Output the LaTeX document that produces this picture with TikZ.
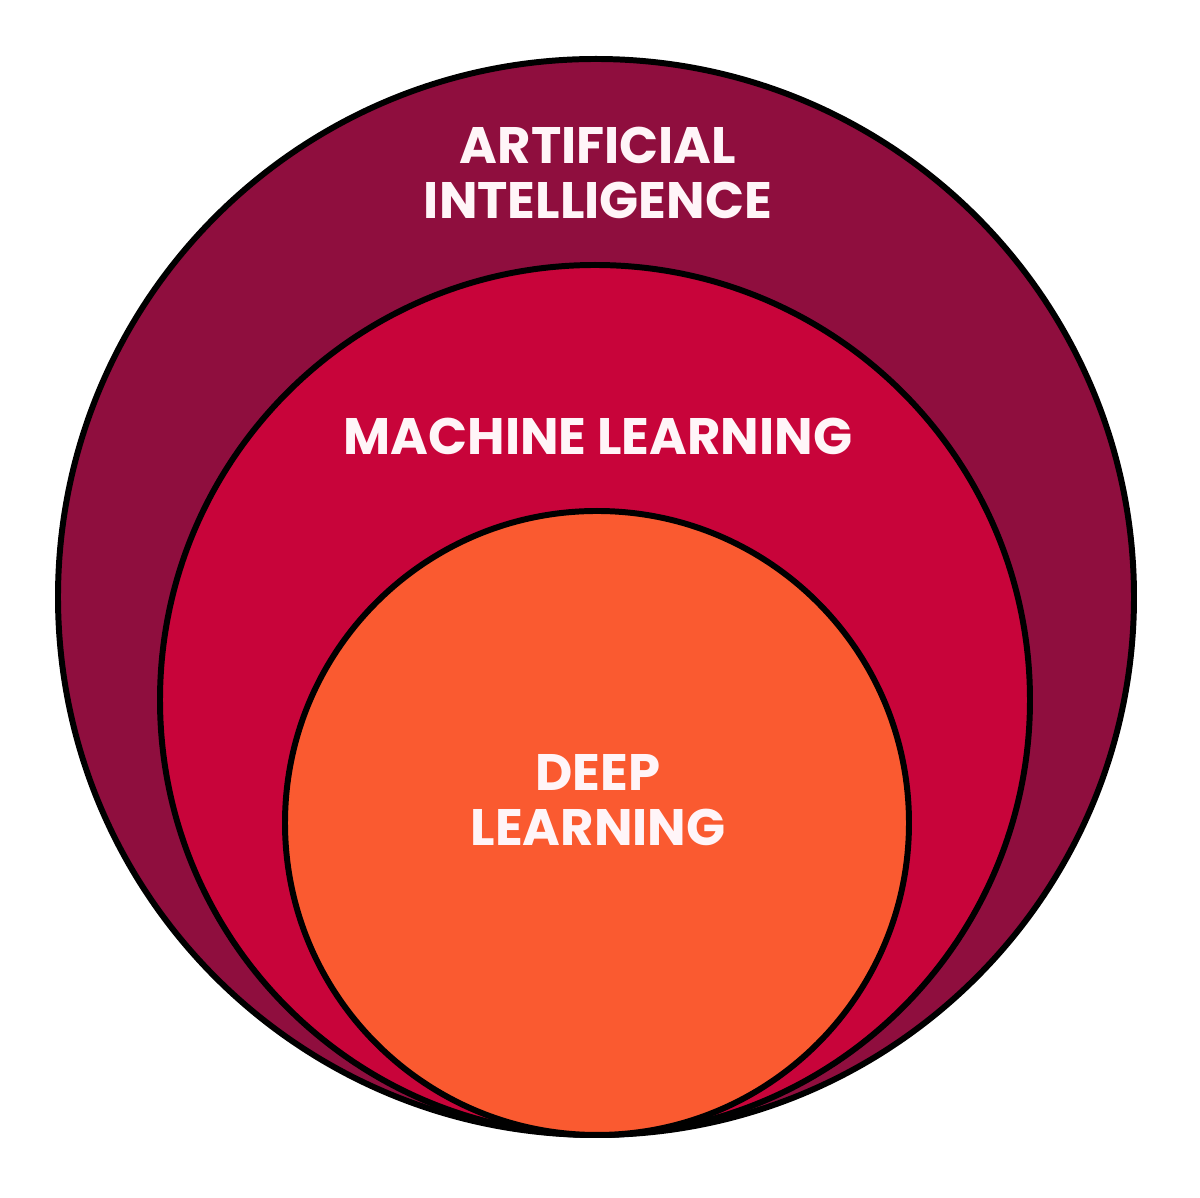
\documentclass[tikz,border=0pt]{standalone}
\usepackage{fontspec}
\setmainfont{Poppins}
\definecolor{aired}{RGB}{143,14,62}
\definecolor{mlred}{RGB}{200,4,58}
\definecolor{dlorange}{RGB}{250,90,48}
\definecolor{labelwhite}{RGB}{255,245,248}
\usepackage{tikz}

\begin{document}
\begin{tikzpicture}
  \tikzset{ring/.style={draw=black, line width=1.7pt},
    label/.style={text=labelwhite, font=\fontsize{14.6}{15.6}\selectfont\bfseries, align=center}}
  \useasboundingbox (0,0) rectangle (12,11.98);
  %% Nested circles, all touching at the bottom
  \filldraw[ring, fill=aired] (5.96,6.01) circle (5.38);
  \filldraw[ring, fill=mlred] (5.95,4.98) circle (4.35);
  \filldraw[ring, fill=dlorange] (5.97,3.75) circle (3.12);
  %% Labels
  \node[label] (ai) at (5.98,10.25) {ARTIFICIAL\\INTELLIGENCE};
  \node[label] (ml) at (5.98,7.62) {MACHINE LEARNING};
  \node[label] (dl) at (5.98,3.98) {DEEP\\LEARNING};
\end{tikzpicture}
\end{document}
